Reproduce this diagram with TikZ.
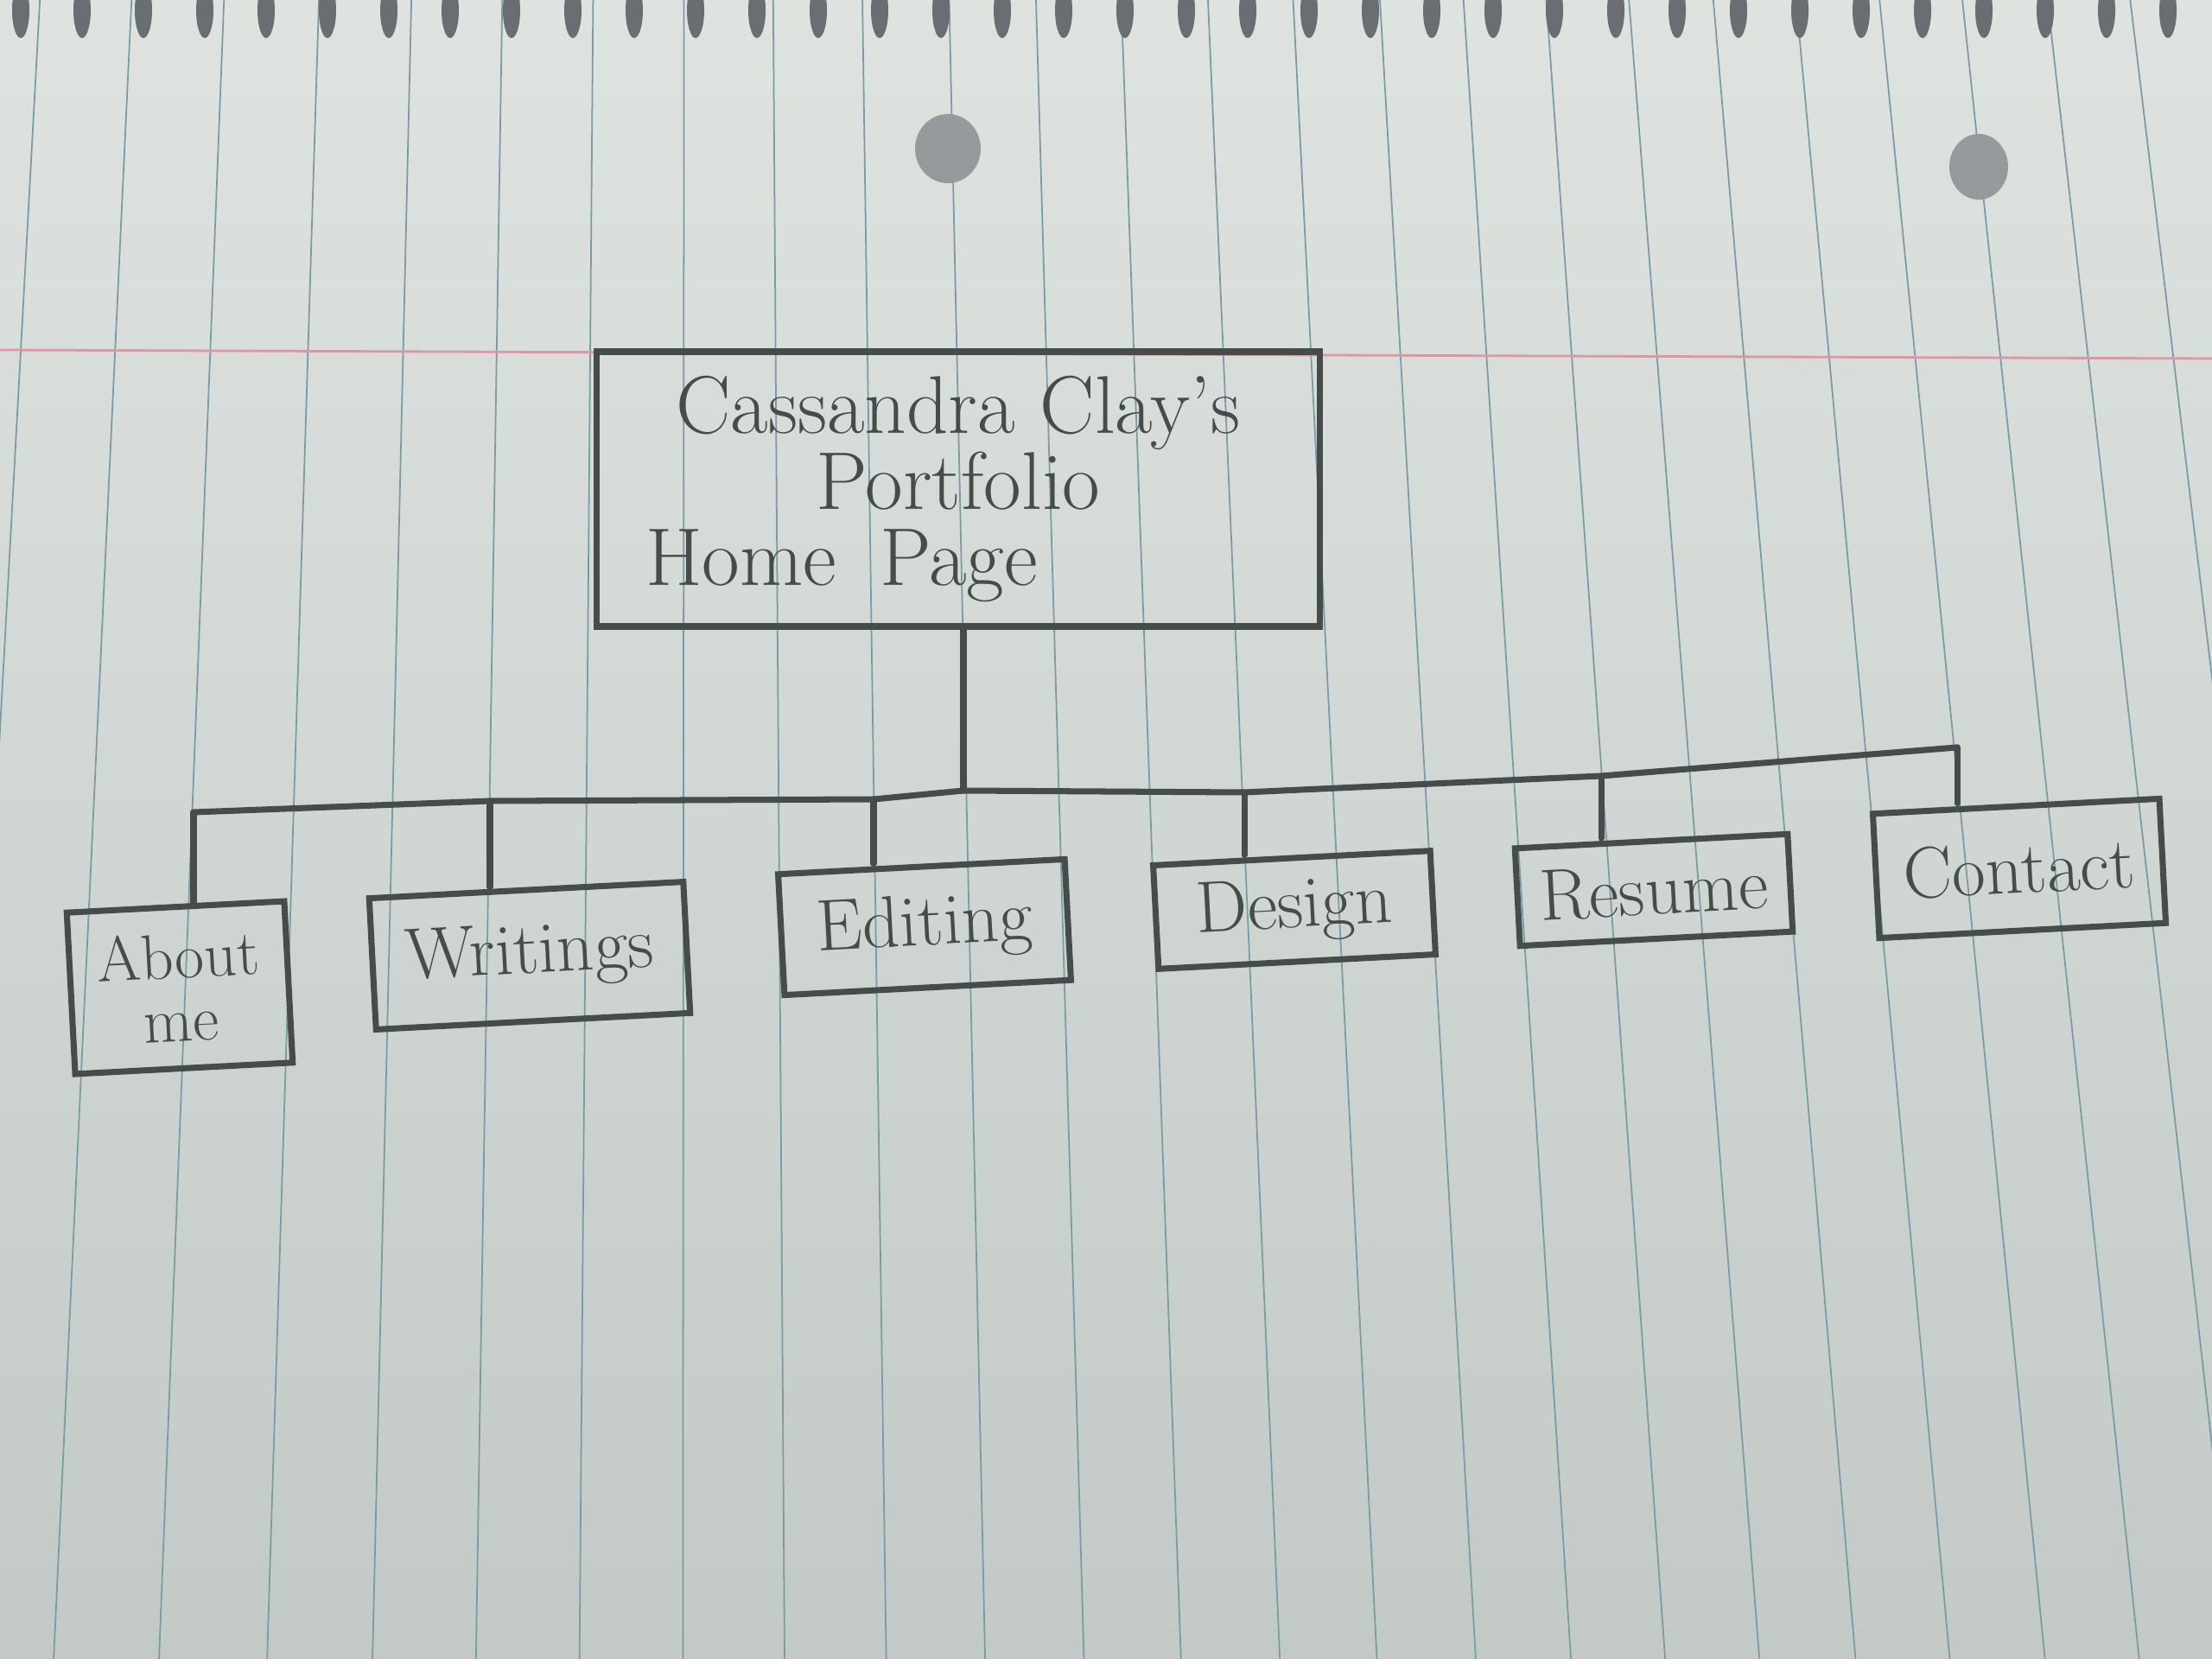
\documentclass[tikz,border=0pt]{standalone}
\usepackage{fontspec}
\usetikzlibrary{positioning}
\usepackage{xcolor}
\definecolor{paperlight}{RGB}{222,227,224}
\definecolor{paperdark}{RGB}{194,201,198}
\definecolor{ruleblue}{RGB}{122,154,168}
\definecolor{marginred}{RGB}{224,150,160}
\definecolor{pencil}{RGB}{70,76,74}
\definecolor{ringgrey}{RGB}{105,110,114}

\begin{document}
\begin{tikzpicture}[
    every node/.style={font=\fontsize{24}{22}\selectfont, text=pencil},
    homebox/.style={draw=pencil, line width=2pt, minimum width=8.37cm, minimum height=3.18cm, align=center, font=\fontsize{27}{25}\selectfont},
    pagebox/.style={draw=pencil, line width=2pt, rotate=3, align=center, inner sep=2pt},
    link/.style={pencil, line width=2pt, line join=round, line cap=round},
    ruling/.style={ruleblue, line width=0.5pt}
]
    % Paper
    \useasboundingbox (0,0) rectangle (25.6,-19.2);
    \shade[top color=paperlight, bottom color=paperdark] (0,0) rectangle (25.6,-19.2);
    \foreach \x in {-0.03,1.10,2.24,3.41,4.55,5.67,6.79,7.91,9.01,10.11,11.18,12.25,13.30,14.37,15.42,16.49,17.52,18.54,19.56,20.60,21.62,22.65,23.67,24.72,25.74} {
        \pgfmathsetmacro{\s}{(\x-8)*0.0068}
        \draw[ruling] ({\x-(\s)*9},0) -- ({\x+(\s)*10.2},-19.2);
    }
    \draw[marginred, line width=0.8pt] (0,-4.05) -- (25.6,-4.15);
    \foreach \x in {0,...,35}
        \fill[ringgrey] ({0.24+0.71*\x},-0.12) ellipse (0.1 and 0.32);
    \fill[ringgrey!70] (10.97,-1.72) ellipse (0.38 and 0.4);
    \fill[ringgrey!70] (22.90,-1.93) ellipse (0.34 and 0.38);

    % Home page
    \node[homebox] (home) at (11.09,-5.66) {Cassandra Clay's\\Portfolio\\Home\hspace{0.5cm}Page\hspace*{2.7cm}};

    % Sub pages
    \node[pagebox, minimum width=2.52cm, minimum height=1.87cm, font=\fontsize{21}{21}\selectfont] (about) at (2.08,-11.43) {About\\me};
    \node[pagebox, minimum width=3.64cm, minimum height=1.52cm] (writings) at (6.13,-11.06) {Writings};
    \node[pagebox, minimum width=3.32cm, minimum height=1.40cm] (editing) at (10.70,-10.73) {Editing};
    \node[pagebox, minimum width=3.21cm, minimum height=1.20cm] (design) at (14.98,-10.53) {Design};
    \node[pagebox, minimum width=3.16cm, minimum height=1.13cm] (resume) at (19.14,-10.30) {Resume};
    \node[pagebox, minimum width=3.32cm, minimum height=1.44cm] (contact) at (23.37,-10.05) {Contact};

    % Junctions on the bar
    \coordinate (j1) at (2.24,-9.40);
    \coordinate (j2) at (5.67,-9.27);
    \coordinate (j3) at (10.11,-9.25);
    \coordinate (jm) at (11.15,-9.15);
    \coordinate (j4) at (14.40,-9.17);
    \coordinate (j5) at (18.53,-8.98);
    \coordinate (j6) at (22.65,-8.65);

    % Connections
    \draw[link] (home.south -| jm) -- (jm);
    \draw[link] (j1) -- (j2) -- (j3) -- (jm) -- (j4) -- (j5) -- (j6);
    \draw[link] (j1) -- (j1 |- about.north);
    \draw[link] (j2) -- (j2 |- writings.north);
    \draw[link] (j3) -- (j3 |- editing.north);
    \draw[link] (j4) -- (j4 |- design.north);
    \draw[link] (j5) -- (j5 |- resume.north);
    \draw[link] (j6) -- (j6 |- contact.north);
\end{tikzpicture}
\end{document}
